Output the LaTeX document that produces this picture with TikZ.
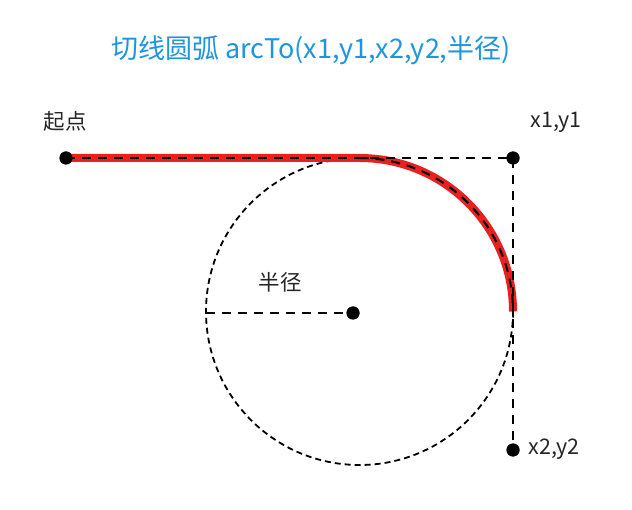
\documentclass[tikz,border=0pt]{standalone}
\usepackage{fontspec}
\setmainfont{Noto Sans CJK SC}
\definecolor{titleblue}{HTML}{1E96DC}
\definecolor{arcred}{HTML}{E8201E}
\begin{document}
\begin{tikzpicture}[x=1pt,y=-1pt,
  dot/.style={circle,fill=black,inner sep=0pt,minimum size=13pt},
  guide/.style={line width=2.4pt,dash pattern=on 9pt off 7pt},
  circdash/.style={line width=1.8pt,dash pattern=on 6pt off 4pt},
  lbl/.style={font=\fontsize{21.5}{24}\selectfont,text=black!85}]
\useasboundingbox (0,0) rectangle (632,510);
\node[font=\fontsize{27}{30}\selectfont,text=titleblue] (title) at (311,50) {切线圆弧 arcTo(x1,y1,x2,y2,半径)};
\coordinate (c) at (359.5,311.5);
\node[dot] (start) at (66,158) {};
\node[dot] (p1) at (513,158) {};
\node[dot] (p2) at (513,450) {};
\node[dot] (center) at (353,313) {};
\coordinate (rleft) at (206,313);
\coordinate (tan1) at (359.5,158);
\coordinate (tan2) at (513,311.5);
% circle
\draw[circdash] (c) circle[radius=153.5];
% red arc
\draw[arcred,line width=8pt] (start.center) -- (tan1) arc[start angle=-90,end angle=0,radius=153.5];
\draw[line width=2pt,dash pattern=on 9pt off 7pt] (tan1) arc[start angle=-90,end angle=0,radius=153.5];
% guides
\draw[guide] (start.center) -- (p1.center) -- (p2.center);
\draw[guide] (rleft) -- (center.center);
% dots again on top
\node[dot] at (start) {};
\node[dot] at (p1) {};
\node[dot] at (p2) {};
\node[dot] at (center) {};
% labels
\node[lbl] (lstart) at (65,121) {起点};
\node[lbl] (lp1) at (556,122) {x1,y1};
\node[lbl] (lr) at (280,282) {半径};
\node[lbl] (lp2) at (554,449) {x2,y2};
\end{tikzpicture}
\end{document}
